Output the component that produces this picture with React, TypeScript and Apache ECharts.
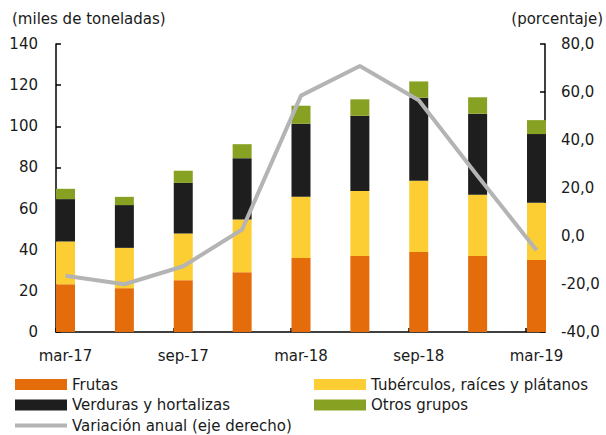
import React, { useEffect, useRef } from "react";
import * as echarts from "echarts";

const categories = ["mar-17", "jun-17", "sep-17", "dic-17", "mar-18", "jun-18", "sep-18", "dic-18", "mar-19"];
const frutas = [23.2, 21.3, 25.2, 29.1, 36.0, 37.0, 38.9, 37.0, 35.0];
const tuberculos = [20.8, 19.6, 22.7, 25.6, 29.7, 31.6, 34.6, 29.7, 27.8];
const verduras = [20.6, 20.8, 24.6, 29.8, 35.5, 36.5, 40.4, 39.4, 33.4];
const otros = [5.0, 4.0, 5.9, 6.8, 8.8, 8.0, 7.9, 8.0, 6.8];
const variacion = [-16.6, -20.1, -12.6, 2.7, 58.5, 70.8, 56.6, 25.0, -5.9];

const leftTicks = { min: 0, max: 140, interval: 20 };
const rightTicks = { min: -40, max: 80, interval: 20 };

const FONT = "DejaVu Sans";
const TXT = "#1a1a1a";
const FS = 15;

export default function App() {
  const ref = useRef<HTMLDivElement>(null);
  useEffect(() => {
    if (!ref.current) return;
    const chart = echarts.init(ref.current, null, { renderer: "svg" });
    const barBase = {
      type: "bar" as const,
      stack: "total",
      barWidth: 19,
      xAxisIndex: 0,
      yAxisIndex: 0,
    };
    const legendCommon = {
      top: 377,
      height: 70,
      padding: 0,
      orient: "vertical" as const,
      itemWidth: 52,
      itemHeight: 11,
      itemGap: 5.5,
      textStyle: { fontSize: FS, color: TXT, fontFamily: FONT },
    };
    chart.setOption({
      animation: false,
      textStyle: { fontFamily: FONT, color: TXT },
      grid: [
        { left: 65.5, width: 471, top: 44, height: 288 },
        { left: 56, width: 489, top: 44, height: 288 },
      ],
      xAxis: [
        {
          type: "category",
          gridIndex: 0,
          data: categories,
          boundaryGap: false,
          axisLine: { show: false },
          axisTick: { show: false },
          axisLabel: { interval: 1, margin: 16, fontSize: FS, color: TXT, fontFamily: FONT },
          splitLine: { show: false },
        },
        {
          type: "value",
          gridIndex: 1,
          min: 0,
          max: 8.322,
          interval: 2,
          axisLine: { show: true, lineStyle: { color: "#000", width: 1.5 } },
          axisTick: { show: true, inside: true, length: 4, lineStyle: { color: "#000", width: 1.5 } },
          axisLabel: { show: false },
          splitLine: { show: false },
        },
      ],
      yAxis: [
        {
          type: "value",
          gridIndex: 0,
          position: "left",
          offset: 9.5,
          ...leftTicks,
          axisLine: { show: true, lineStyle: { color: "#000", width: 1.5 } },
          axisTick: { show: true, inside: true, length: 5, lineStyle: { color: "#000", width: 1.5 } },
          axisLabel: { margin: 18, fontSize: FS, color: TXT, fontFamily: FONT },
          splitLine: { show: false },
        },
        {
          type: "value",
          gridIndex: 0,
          position: "right",
          offset: 8.5,
          ...rightTicks,
          axisLine: { show: true, lineStyle: { color: "#000", width: 1.5 } },
          axisTick: { show: true, inside: true, length: 5, lineStyle: { color: "#000", width: 1.5 } },
          axisLabel: {
            margin: 16,
            fontSize: FS,
            color: TXT,
            fontFamily: FONT,
            formatter: (v: number) => v.toFixed(1).replace(".", ","),
          },
          splitLine: { show: false },
        },
        { type: "value", gridIndex: 1, show: false, min: 0, max: 1 },
      ],
      legend: [
        {
          ...legendCommon,
          left: 15,
          data: [
            { name: "Frutas", icon: "rect" },
            { name: "Verduras y hortalizas", icon: "rect" },
            { name: "Variación anual (eje derecho)", icon: "path://M0,0 L52,0 L52,4 L0,4 Z" },
          ],
        },
        {
          ...legendCommon,
          left: 314,
          data: [
            { name: "Tubérculos, raíces y plátanos", icon: "rect" },
            { name: "Otros grupos", icon: "rect" },
          ],
        },
      ],
      graphic: [
        {
          type: "text",
          left: 12,
          top: 11,
          style: { text: "(miles de toneladas)", fontSize: FS, fill: TXT, fontFamily: FONT },
        },
        {
          type: "text",
          right: 3,
          top: 11,
          style: { text: "(porcentaje)", fontSize: FS, fill: TXT, fontFamily: FONT },
        },
      ],
      series: [
        { ...barBase, name: "Frutas", data: frutas, itemStyle: { color: "#E46C0A" } },
        { ...barBase, name: "Tubérculos, raíces y plátanos", data: tuberculos, itemStyle: { color: "#FDCD34" } },
        { ...barBase, name: "Verduras y hortalizas", data: verduras, itemStyle: { color: "#1E1E1E" } },
        { ...barBase, name: "Otros grupos", data: otros, itemStyle: { color: "#87A122" } },
        {
          type: "line",
          name: "Variación anual (eje derecho)",
          xAxisIndex: 0,
          yAxisIndex: 1,
          data: variacion,
          symbol: "none",
          lineStyle: { color: "#B4B4B4", width: 4 },
          itemStyle: { color: "#B4B4B4" },
          z: 5,
        },
      ],
    });
    return () => chart.dispose();
  }, []);
  return <div ref={ref} style={{ width: 606, height: 435, position: "absolute", left: 0, top: 0 }} />;
}
